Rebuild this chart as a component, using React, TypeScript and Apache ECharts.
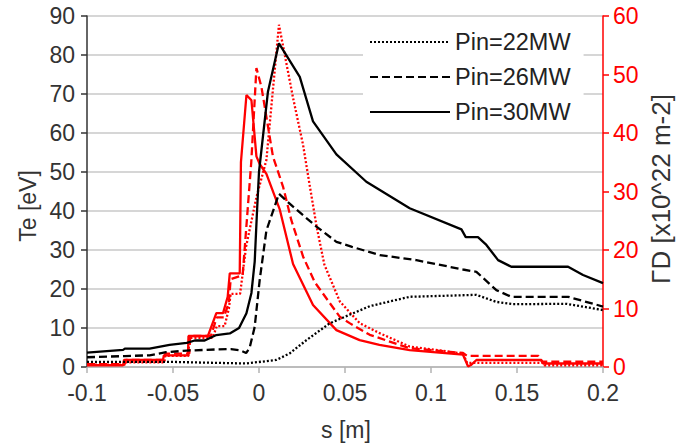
import React, { useEffect, useRef } from "react";
import * as echarts from "echarts";

// Axis ranges
const sMin = -0.1;
const sMax = 0.2;
const sStep = 0.05;
const teMin = 0;
const teMax = 90;
const teStep = 10;
const gdMin = 0;
const gdMax = 60;
const gdStep = 10;

const legendNames = ["Pin=22MW", "Pin=26MW", "Pin=30MW"];

// Te [eV] (left axis), [s, Te]
const te22: [number, number][] = [
  [-0.1, 1.3], [-0.05, 1.3], [-0.0075, 0.9], [0.01, 1.8], [0.0179, 3.5], [0.0276, 6.9],
  [0.0411, 11.2], [0.0527, 13.4], [0.0644, 15.6], [0.0876, 18.0], [0.1264, 18.5],
  [0.138, 16.7], [0.1477, 16.1], [0.1787, 16.2], [0.2, 14.6],
];
const te26: [number, number][] = [
  [-0.1, 2.5], [-0.078, 2.8], [-0.0636, 3.0], [-0.054, 3.8], [-0.042, 4.2], [-0.0248, 4.5],
  [-0.0163, 4.6], [-0.011, 4.3], [-0.0075, 3.6], [-0.0055, 4.8], [-0.0025, 10.3],
  [0.0004, 22.3], [0.0043, 35], [0.0116, 44.4], [0.0198, 41.1], [0.0334, 36], [0.045, 32.1],
  [0.0541, 30.8], [0.0702, 28.7], [0.0915, 27.4], [0.1186, 25.0], [0.1264, 24.4],
  [0.138, 19.7], [0.1467, 18.0], [0.1797, 18.0], [0.2, 15.5],
];
const te30: [number, number][] = [
  [-0.1, 3.7], [-0.079, 4.4], [-0.078, 4.7], [-0.0636, 4.7], [-0.052, 5.7], [-0.042, 6.2],
  [-0.0374, 6.8], [-0.0316, 6.8], [-0.0248, 8.2], [-0.017, 8.6], [-0.0116, 10.0],
  [-0.0073, 13.8], [-0.0044, 19], [-0.0025, 27], [-0.0012, 39.5], [0, 50], [0.0052, 70.6],
  [0.0116, 83], [0.0237, 74.4], [0.0314, 63], [0.045, 54.5], [0.0624, 47.5], [0.0876, 40.7],
  [0.1177, 35.3], [0.1202, 33.3], [0.1273, 33.3], [0.1322, 31.3], [0.139, 27.4],
  [0.1467, 25.7], [0.1797, 25.7], [0.1884, 23.6], [0.2, 21.5],
];

// ΓD [x10^22 m-2] (right axis), [s, ΓD]
const gd22: [number, number][] = [
  [-0.1, 0.4], [-0.078, 0.4], [-0.0775, 0.8], [-0.055, 0.8], [-0.0545, 1.9], [-0.041, 1.9],
  [-0.0405, 5.0], [-0.027, 5.0], [-0.0245, 7.0], [-0.02, 7.0], [-0.0175, 10], [-0.0165, 12.5],
  [-0.011, 12.5], [-0.0075, 20.6], [-0.0015, 29], [0.0043, 35.4], [0.0116, 58.5],
  [0.0198, 46], [0.0256, 38], [0.0295, 31], [0.0335, 24], [0.038, 17.5], [0.047, 11.2],
  [0.0585, 7.5], [0.07, 5.8], [0.0876, 3.5], [0.1186, 2.3], [0.121, 0.7], [0.165, 0.7],
  [0.166, 0.3], [0.2, 0.3],
];
const gd26: [number, number][] = [
  [-0.1, 0.5], [-0.078, 0.5], [-0.0775, 1.2], [-0.055, 1.2], [-0.0545, 2.3], [-0.0405, 2.3],
  [-0.04, 5.3], [-0.028, 5.3], [-0.0245, 8.5], [-0.0205, 8.5], [-0.0175, 11], [-0.0165, 15],
  [-0.0095, 15.7], [-0.0045, 35], [-0.0015, 51.1], [0.0014, 47.9], [0.0081, 36],
  [0.014, 30.8], [0.0188, 25.1], [0.0256, 18.9], [0.0324, 14.5], [0.0469, 8.6],
  [0.0527, 7.5], [0.0644, 5.5], [0.0876, 3.2], [0.1186, 2.4], [0.121, 1.9], [0.1625, 1.9],
  [0.1645, 0.9], [0.2, 0.9],
];
const gd30: [number, number][] = [
  [-0.1, 0.3], [-0.079, 0.3], [-0.0785, 1.2], [-0.0558, 1.2], [-0.0553, 2.0], [-0.0413, 2.0],
  [-0.041, 5.3], [-0.0297, 5.3], [-0.0248, 9.2], [-0.0209, 9.2], [-0.0182, 12], [-0.017, 16],
  [-0.0112, 16], [-0.0105, 35], [-0.0073, 46.5], [-0.0044, 45.6], [-0.0015, 36],
  [0.0004, 34.7], [0.0043, 33], [0.012, 27], [0.0198, 17.6], [0.0314, 10.6], [0.045, 6.3],
  [0.0585, 4.6], [0.07, 3.8], [0.0876, 2.9], [0.1186, 2.1], [0.1205, 0.8], [0.1215, 0.1],
  [0.1235, 0.4], [0.1264, 1.2], [0.1642, 1.2], [0.1652, 0.6], [0.2, 0.6],
];

const FONT = "Liberation Sans, Arial, sans-serif";
const DOTTED = [2, 2];
const DASHED = [8, 4];
const LW = 2.3;

export default function App() {
  const ref = useRef<HTMLDivElement>(null);
  useEffect(() => {
    if (!ref.current) return;
    const chart = echarts.init(ref.current, undefined, { renderer: "svg" });
    const line = (name: string, data: [number, number][], color: string, dash: number[] | "solid", yAxisIndex: number) => ({
      name,
      type: "line",
      yAxisIndex,
      data,
      symbol: "none",
      showSymbol: false,
      lineStyle: { color, width: LW, type: dash },
      itemStyle: { color },
      z: yAxisIndex === 1 ? 2 : 3,
    });
    chart.setOption({
      animation: false,
      textStyle: { fontFamily: FONT },
      grid: { left: 87, right: 76, top: 16, bottom: 78, outerBoundsMode: "none" },
      legend: {
        data: legendNames,
        orient: "vertical",
        left: 363,
        top: 20,
        padding: [10, 13, 6, 6],
        backgroundColor: "#ffffff",
        itemWidth: 80,
        itemHeight: 14,
        itemGap: 11,
        selectedMode: false,
        itemStyle: { opacity: 0, borderWidth: 0 },
        textStyle: { fontSize: 23.5, color: "#222", fontFamily: FONT, lineHeight: 23 },
      },
      xAxis: {
        type: "value",
        min: sMin,
        max: sMax,
        interval: sStep,
        axisLine: { show: true, onZero: false, lineStyle: { color: "#b3b3b3", width: 1.5 } },
        axisTick: { show: true, length: 6, lineStyle: { color: "#b3b3b3", width: 1.5 } },
        axisLabel: { fontSize: 23, color: "#333", margin: 14, fontFamily: FONT },
        splitLine: { show: false },
      },
      yAxis: [
        {
          type: "value",
          min: teMin,
          max: teMax,
          interval: teStep,
          axisLine: { show: true, onZero: false, lineStyle: { color: "#333", width: 1.5 } },
          axisTick: { show: true, length: 6, lineStyle: { color: "#333", width: 1.5 } },
          axisLabel: { fontSize: 23, color: "#333", margin: 12, fontFamily: FONT },
          splitLine: { show: true, lineStyle: { color: "#c8c8c8", width: 1.5 } },
        },
        {
          type: "value",
          position: "right",
          min: gdMin,
          max: gdMax,
          interval: gdStep,
          axisLine: { show: true, onZero: false, lineStyle: { color: "#ff0000", width: 1.5 } },
          axisTick: { show: true, length: 6, lineStyle: { color: "#ff0000", width: 1.5 } },
          axisLabel: { fontSize: 23, color: "#ff0000", margin: 10, fontFamily: FONT },
          splitLine: { show: false },
        },
      ],
      graphic: [
        {
          type: "text",
          x: 346,
          y: 430,
          style: { text: "s [m]", fontSize: 23, fill: "#333", fontFamily: FONT, textAlign: "center", textVerticalAlign: "middle" },
        },
        {
          type: "text",
          x: 28,
          y: 206,
          rotation: Math.PI / 2,
          style: { text: "Te [eV]", fontSize: 23, fill: "#333", fontFamily: FONT, textAlign: "center", textVerticalAlign: "middle" },
        },
        {
          type: "text",
          x: 661,
          y: 189,
          rotation: Math.PI / 2,
          style: { text: "ΓD [x10^22 m-2]", fontSize: 26, fill: "#333", fontFamily: FONT, textAlign: "center", textVerticalAlign: "middle" },
        },
      ],
      series: [
        line("ΓD 22", gd22, "#ff0000", DOTTED, 1),
        line("ΓD 26", gd26, "#ff0000", DASHED, 1),
        line("ΓD 30", gd30, "#ff0000", "solid", 1),
        line(legendNames[0], te22, "#000000", DOTTED, 0),
        line(legendNames[1], te26, "#000000", DASHED, 0),
        line(legendNames[2], te30, "#000000", "solid", 0),
      ],
    });
    return () => chart.dispose();
  }, []);
  return (
    <div
      ref={ref}
      style={{ position: "absolute", left: 0, top: 0, width: 679, height: 445, background: "#fff" }}
    />
  );
}
